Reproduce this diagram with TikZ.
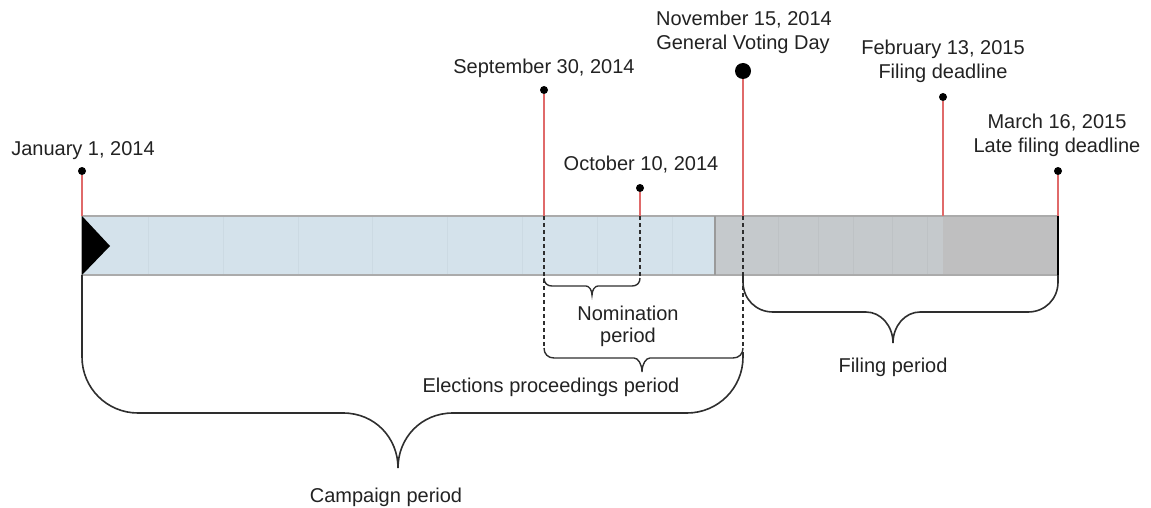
\documentclass[tikz,border=0pt]{standalone}
\usepackage{fontspec}
\setmainfont{Liberation Sans}
\definecolor{txt}{HTML}{222222}
\definecolor{barblue}{HTML}{D4E2EB}
\definecolor{stripeblue}{HTML}{CCDAE3}
\definecolor{grayA}{HTML}{C5C9CC}
\definecolor{stripegray}{HTML}{BEC2C5}
\definecolor{grayB}{HTML}{BFBFC0}
\definecolor{barline}{HTML}{ABABAB}
\definecolor{redl}{HTML}{E06A6A}
\definecolor{dark}{HTML}{2E2E2E}
\tikzset{
  lbl/.style={anchor=base, font=\fontsize{20}{24}\selectfont, inner sep=0pt, text=txt},
  dotnode/.style={circle, fill=black, inner sep=0pt, minimum size=8pt},
  bigdot/.style={circle, fill=black, inner sep=0pt, minimum size=16pt},
  redline/.style={draw=redl, line width=1.6pt},
  bracepath/.style={draw=dark, line width=1.6pt},
  dashline/.style={draw=dark, line width=1.3pt, dash pattern=on 4pt off 3pt},
}
\begin{document}
\begin{tikzpicture}[x=1pt,y=-1pt]
\useasboundingbox (0,0) rectangle (1151,508);
% bar
\fill[barblue] (82,216) rectangle (715,275);
\fill[grayA] (715,216) rectangle (943,275);
\fill[grayB] (943,216) rectangle (1058,275);
\foreach \x in {148,223,298,372,447,522,597,672}
  \draw[stripeblue, line width=1pt] (\x,217) -- (\x,274);
\foreach \x in {778,818,853,892,927}
  \draw[stripegray, line width=1pt] (\x,217) -- (\x,274);
\draw[barline, line width=1.5pt] (82,216) rectangle (1058,275);
\draw[barline!120, line width=1.2pt] (715,216) -- (715,275);
\draw[black, line width=2pt] (1058,216) -- (1058,275);
\fill[black] (82,216) -- (110,246) -- (82,275) -- cycle;
% coordinates on bar
\coordinate (janb) at (82,216);
\coordinate (sepb) at (544,216);
\coordinate (octb) at (640,216);
\coordinate (novb) at (743,216);
\coordinate (febb) at (943,216);
\coordinate (marb) at (1058,216);
% markers
\node[dotnode] (jan) at (82,171) {};
\node[dotnode] (sep) at (544,90) {};
\node[dotnode] (oct) at (640,188) {};
\node[bigdot] (nov) at (743,71) {};
\node[dotnode] (feb) at (943,97) {};
\node[dotnode] (mar) at (1058,171) {};
\draw[redline] (jan) -- (janb);
\draw[redline] (sep) -- (sepb);
\draw[redline] (oct) -- (octb);
\draw[redline] (nov) -- (novb);
\draw[redline] (feb) -- (febb);
\draw[redline] (mar) -- (marb);
% labels
\node[lbl] (janL) at (83,155) {January 1, 2014};
\node[lbl] (sepL) at (544,74) {September 30, 2014};
\node[lbl] (octL) at (641,171) {October 10, 2014};
\node[lbl] (novL1) at (744,26) {November 15, 2014};
\node[lbl] (novL2) at (743,50) {General Voting Day};
\node[lbl] (febL1) at (943,55) {February 13, 2015};
\node[lbl] (febL2) at (943,79) {Filing deadline};
\node[lbl] (marL1) at (1057,129) {March 16, 2015};
\node[lbl] (marL2) at (1057,153) {Late filing deadline};
% dashed drop lines
\coordinate (sepd) at (544,348);
\coordinate (octd) at (640,278);
\coordinate (novd) at (743,348);
\draw[dashline] (sepb) -- (sepd);
\draw[dashline] (octb) -- (octd);
\draw[dashline] (novb) -- (novd);
% nomination brace
\draw[bracepath, line width=1.4pt] (544,278)
  .. controls (544,283) and (547,286) .. (552,286) -- (586,286)
  .. controls (589,286) and (592,290) .. (592,295)
  .. controls (592,290) and (595,286) .. (598,286) -- (632,286)
  .. controls (637,286) and (640,283) .. (640,278);
\node[lbl] (nomL1) at (628,320) {Nomination};
\node[lbl] (nomL2) at (628,342) {period};
% elections brace
\draw[bracepath, line width=1.4pt] (544,348)
  .. controls (544,354) and (548,358) .. (554,358) -- (634,358)
  .. controls (638,358) and (642,364) .. (642,372)
  .. controls (642,364) and (646,358) .. (650,358) -- (733,358)
  .. controls (739,358) and (743,354) .. (743,348);
\node[lbl] (elL) at (551,392) {Elections proceedings period};
% campaign brace
\draw[bracepath] (82,275) -- (82,357)
  .. controls (82,388) and (107,413) .. (138,413) -- (343,413)
  .. controls (375,413) and (398,438) .. (398,468)
  .. controls (398,438) and (421,413) .. (453,413) -- (687,413)
  .. controls (718,413) and (743,388) .. (743,357) -- (743,352);
\node[lbl] (campL) at (386,502) {Campaign period};
% filing brace
\draw[bracepath] (743,275) -- (743,282)
  .. controls (743,299) and (756,312) .. (773,312) -- (866,312)
  .. controls (881,312) and (893,326) .. (893,343)
  .. controls (893,326) and (905,312) .. (920,312) -- (1028,312)
  .. controls (1045,312) and (1058,299) .. (1058,282) -- (1058,275);
\node[lbl] (filL) at (893,372) {Filing period};
\end{tikzpicture}
\end{document}
